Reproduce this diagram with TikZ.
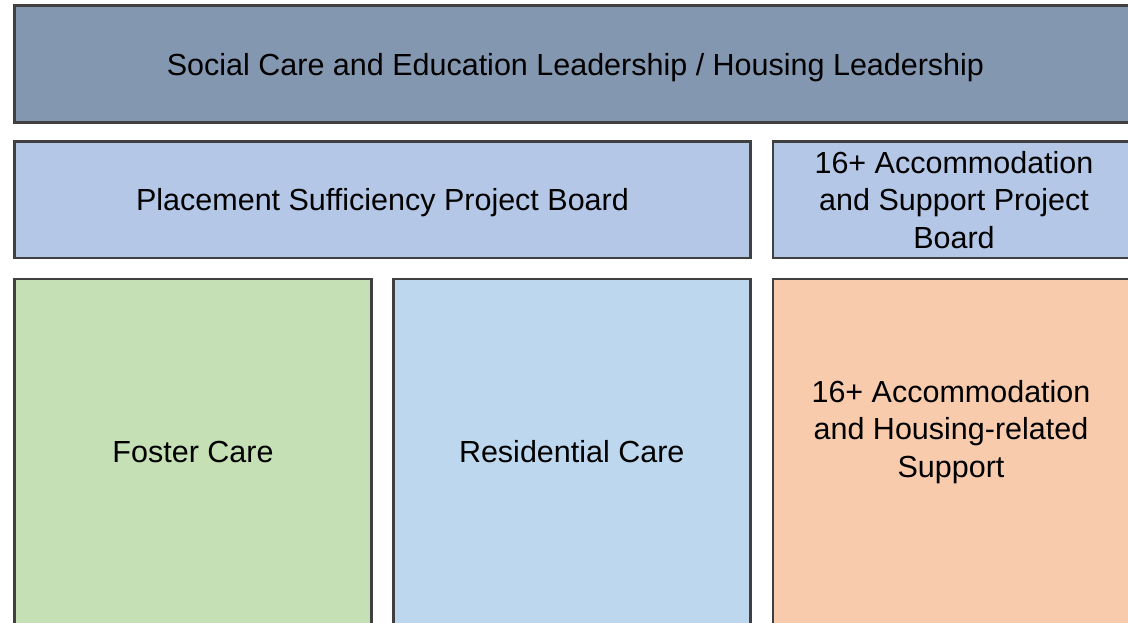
\documentclass[tikz,border=0pt]{standalone}
\usepackage{fontspec}
\setmainfont{Liberation Sans}
\definecolor{leadfill}{HTML}{8497B0}
\definecolor{boardfill}{HTML}{B4C7E7}
\definecolor{fosterfill}{HTML}{C5E0B4}
\definecolor{resfill}{HTML}{BDD7EE}
\definecolor{accfill}{HTML}{F8CBAD}
\definecolor{panelline}{HTML}{404040}
\begin{document}
\begin{tikzpicture}[x=1pt,y=-1pt]
    \tikzstyle{panel}=[rectangle, draw=panelline, line width=2.6pt, inner sep=0pt, align=center, text=black, font=\fontsize{30.5}{37.5}\selectfont]
    \tikzstyle{oneline}=[text depth=0pt]
    \tikzstyle{caption}=[inner sep=0pt, align=center, text=black, font=\fontsize{30.5}{37.5}\selectfont]

    \useasboundingbox (0,0) rectangle (1128,622);
    \clip (0,0) rectangle (1128,622);

    \node[panel, oneline, fill=leadfill, minimum width=1122pt, minimum height=117pt] (lead) at (575.5,64) {Social Care and Education Leadership / Housing Leadership};
    \node[panel, oneline, fill=boardfill, minimum width=736pt, minimum height=116.5pt] (psboard) at (382.5,199.75) {Placement Sufficiency Project Board};
    \node[panel, fill=boardfill, minimum width=362pt, minimum height=116.5pt] (accboard) at (954,199.75) {16+ Accommodation\\and Support Project\\Board};

    \node[panel, oneline, fill=fosterfill, minimum width=357pt, minimum height=345pt] (foster) at (193,451.5) {Foster Care};
    \node[panel, oneline, fill=resfill, minimum width=357pt, minimum height=345pt] (residential) at (571.75,451.5) {Residential Care};
    \node[panel, fill=accfill, minimum width=362pt, minimum height=345pt] (acc) at (954,451.5) {};
    \node[caption] (acctext) at (951,432) {16+ Accommodation\\and Housing-related\\Support};
\end{tikzpicture}
\end{document}
